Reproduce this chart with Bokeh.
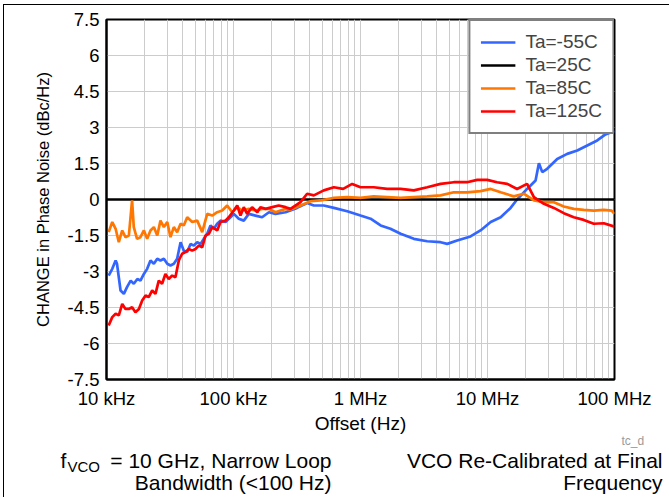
from bokeh.plotting import figure
from bokeh.layouts import column
from bokeh.models import (FixedTicker, CustomJSTickFormatter, Legend, LegendItem, Label,
                          Title, Range1d, InlineStyleSheet)
from bokeh.embed import file_html
from bokeh.resources import INLINE

# ---- data (offset frequency in Hz, change in phase noise in dBc/Hz) ----
freq_m55 = [1.04e4, 1.11e4, 1.18e4, 1.21e4, 1.29e4, 1.37e4, 1.45e4, 1.55e4, 1.64e4, 1.75e4,
            1.85e4, 1.97e4, 2.09e4, 2.22e4, 2.36e4, 2.51e4, 2.66e4, 2.83e4, 3.01e4, 3.19e4,
            3.39e4, 3.60e4, 3.83e4, 4.06e4, 4.32e4, 4.59e4, 4.87e4, 5.18e4, 5.50e4, 5.83e4,
            6.21e4, 6.59e4, 7.00e4, 7.44e4, 7.90e4, 8.65e4, 9.47e4, 1.006e5, 1.10e5, 1.205e5,
            1.32e5, 1.49e5, 1.68e5, 1.90e5, 2.14e5, 2.57e5, 3.17e5, 3.80e5, 4.29e5, 5.14e5,
            6.17e5, 7.86e5, 1.0e6, 1.2e6, 1.44e6, 1.72e6, 2.07e6, 2.63e6, 3.35e6, 4.27e6,
            4.82e6, 5.77e6, 7.35e6, 8.81e6, 1.06e7, 1.27e7, 1.52e7, 1.71e7, 2.05e7, 2.39e7,
            2.54e7, 2.70e7, 2.95e7, 3.54e7, 4.24e7, 5.09e7, 6.10e7, 7.31e7, 8.49e7, 1.0e8]
chg_m55 = [-3.17, -2.89, -2.54, -2.68, -3.79, -3.93, -3.65, -3.38, -3.51, -3.31,
           -3.38, -3.10, -2.89, -2.54, -2.68, -2.47, -2.54, -2.47, -2.68, -2.75,
           -2.68, -2.47, -1.78, -2.13, -2.19, -1.85, -1.92, -1.78, -1.85, -1.64,
           -1.43, -1.08, -1.22, -1.01, -0.88, -0.94, -0.74, -0.60, -0.80, -0.88,
           -0.60, -0.67, -0.74, -0.53, -0.60, -0.53, -0.35, -0.15, -0.25, -0.25,
           -0.35, -0.49, -0.67, -0.80, -1.08, -1.22, -1.43, -1.64, -1.74, -1.78,
           -1.85, -1.71, -1.54, -1.29, -0.94, -0.74, -0.35, 0.0, 0.44, 0.79,
           1.51, 1.14, 1.28, 1.69, 1.90, 2.04, 2.25, 2.46, 2.71, 2.85]

freq_25 = [1.0e4, 1.0e8]
chg_25 = [0.0, 0.0]

freq_85 = [1.04e4, 1.11e4, 1.18e4, 1.25e4, 1.33e4, 1.41e4, 1.50e4, 1.59e4, 1.64e4, 1.74e4,
           1.85e4, 1.97e4, 2.09e4, 2.22e4, 2.36e4, 2.51e4, 2.66e4, 2.83e4, 3.01e4, 3.19e4,
           3.39e4, 3.60e4, 3.83e4, 4.06e4, 4.32e4, 4.73e4, 5.18e4, 5.67e4, 6.21e4, 6.80e4,
           7.44e4, 8.15e4, 8.92e4, 9.77e4, 1.07e5, 1.17e5, 1.32e5, 1.49e5, 1.68e5, 1.90e5,
           2.14e5, 2.57e5, 2.81e5, 3.37e5, 4.04e5, 4.84e5, 6.17e5, 7.86e5, 1.0e6, 1.27e6,
           1.62e6, 2.07e6, 2.63e6, 3.35e6, 4.27e6, 5.43e6, 6.90e6, 8.81e6, 1.06e7, 1.27e7,
           1.61e7, 1.93e7, 2.32e7, 2.78e7, 3.33e7, 3.99e7, 4.78e7, 5.73e7, 6.87e7, 8.24e7,
           9.5e7, 1.0e8]
chg_85 = [-1.36, -0.94, -1.22, -1.78, -1.29, -1.57, -1.50, -0.04, -1.15, -1.64,
          -1.57, -1.29, -1.64, -1.29, -1.15, -1.50, -0.88, -1.15, -0.94, -1.57,
          -1.15, -1.36, -1.01, -1.08, -0.74, -0.94, -0.88, -1.36, -0.60, -0.67,
          -0.53, -0.46, -0.25, -0.53, -0.32, -0.46, -0.39, -0.46, -0.39, -0.39,
          -0.53, -0.39, -0.42, -0.25, -0.07, -0.04, 0.07, 0.10, 0.07, 0.13,
          0.10, 0.07, 0.10, 0.13, 0.17, 0.30, 0.30, 0.35, 0.44, 0.30,
          0.13, 0.24, -0.04, -0.11, -0.11, -0.29, -0.39, -0.43, -0.46, -0.43,
          -0.46, -0.60]

freq_125 = [1.04e4, 1.11e4, 1.18e4, 1.25e4, 1.33e4, 1.41e4, 1.50e4, 1.59e4, 1.69e4, 1.80e4,
            1.91e4, 2.03e4, 2.15e4, 2.29e4, 2.43e4, 2.58e4, 2.74e4, 2.91e4, 3.09e4, 3.29e4,
            3.49e4, 3.71e4, 3.94e4, 4.19e4, 4.45e4, 4.73e4, 5.02e4, 5.33e4, 5.67e4, 6.02e4,
            6.39e4, 6.80e4, 7.44e4, 7.90e4, 8.65e4, 9.18e4, 1.006e5, 1.07e5, 1.135e5, 1.205e5,
            1.28e5, 1.40e5, 1.54e5, 1.63e5, 1.79e5, 2.02e5, 2.27e5, 2.57e5, 2.81e5, 3.37e5,
            3.80e5, 4.29e5, 5.14e5, 6.17e5, 7.30e5, 8.60e5, 1.0e6, 1.27e6, 1.62e6, 2.07e6,
            2.63e6, 3.35e6, 4.27e6, 5.43e6, 6.90e6, 8.30e6, 9.95e6, 1.19e7, 1.43e7, 1.71e7,
            2.05e7, 2.32e7, 2.78e7, 3.33e7, 3.99e7, 4.78e7, 5.73e7, 6.87e7, 8.24e7, 1.0e8]
chg_125 = [-5.25, -4.90, -4.76, -4.83, -4.35, -4.56, -4.56, -4.49, -4.70, -4.56,
           -4.21, -4.00, -4.07, -3.79, -3.93, -3.38, -3.51, -3.10, -3.31, -3.17,
           -3.24, -2.54, -2.26, -2.19, -2.06, -2.13, -2.06, -1.92, -1.99, -1.50,
           -1.43, -1.15, -1.29, -0.94, -0.88, -0.74, -0.46, -0.25, -0.67, -0.32,
           -0.60, -0.32, -0.53, -0.32, -0.39, -0.32, -0.25, -0.32, -0.39, -0.11,
           0.24, 0.17, 0.38, 0.51, 0.44, 0.65, 0.51, 0.51, 0.44, 0.44,
           0.38, 0.51, 0.65, 0.72, 0.72, 0.82, 0.82, 0.72, 0.65, 0.44,
           0.65, 0.10, -0.18, -0.35, -0.57, -0.74, -0.85, -1.01, -0.99, -1.13]

series_labels = ["Ta=-55C", "Ta=25C", "Ta=85C", "Ta=125C"]
series_colors = ["#3366FF", "#000000", "#FF7700", "#FF0000"]

x_tick_values = [1e4, 1e5, 1e6, 1e7, 1e8]
x_tick_labels = ["10 kHz", "100 kHz", "1 MHz", "10 MHz", "100 MHz"]
x_minor_ticks = [m * d for d in (1e4, 1e5, 1e6, 1e7) for m in (2, 3, 4, 5, 6, 7, 8, 9)]
y_tick_values = [-7.5, -6, -4.5, -3, -1.5, 0, 1.5, 3, 4.5, 6, 7.5]

FONT = "Liberation Sans"
GRID = "#cccccc"
W = 669
H_MAIN = 450
H_FOOT = 47

p = figure(width=W, height=H_MAIN, x_axis_type="log", x_range=(1e4, 1e8), y_range=(-7.5, 7.5),
           output_backend="svg", toolbar_location=None,
           min_border_left=106, min_border_right=55, min_border_top=19,
           min_border_bottom=H_MAIN - 379)

p.background_fill_color = "white"
p.border_fill_color = "white"
p.outline_line_color = "black"
p.outline_line_width = 2

xt = FixedTicker(ticks=x_tick_values, minor_ticks=x_minor_ticks)
yt = FixedTicker(ticks=y_tick_values)
p.xaxis.ticker = xt
p.yaxis.ticker = yt
p.xgrid.ticker = xt
p.ygrid.ticker = yt

p.xaxis.formatter = CustomJSTickFormatter(args=dict(vals=x_tick_values, labels=x_tick_labels), code="""
for (let i = 0; i < vals.length; i++) { if (Math.abs(Math.log10(tick) - Math.log10(vals[i])) < 1e-6) return labels[i]; }
return '';
""")
p.yaxis.formatter = CustomJSTickFormatter(code="return tick.toString();")

for ax in (p.xaxis, p.yaxis):
    ax.axis_line_color = "black"
    ax.axis_line_width = 2
    ax.major_tick_line_color = None
    ax.minor_tick_line_color = None
    ax.major_tick_out = 0
    ax.major_tick_in = 0
    ax.minor_tick_out = 0
    ax.minor_tick_in = 0
    ax.major_label_text_font = FONT
    ax.major_label_text_font_size = "18.5px"
    ax.major_label_text_color = "black"
    ax.axis_label_text_font = FONT
    ax.axis_label_text_font_style = "normal"
    ax.axis_label_text_color = "black"

p.xaxis.axis_label = "Offset (Hz)"
p.yaxis.axis_label = "CHANGE in Phase Noise (dBc/Hz)"
p.xaxis.axis_label_text_font_size = "19px"
p.yaxis.axis_label_text_font_size = "16.5px"
p.xaxis.major_label_standoff = 8
p.xaxis.axis_label_standoff = 1
p.yaxis.major_label_standoff = 7
p.yaxis.axis_label_standoff = 13

p.xgrid.grid_line_color = GRID
p.xgrid.minor_grid_line_color = GRID
p.ygrid.grid_line_color = GRID
p.xgrid.grid_line_width = 1
p.ygrid.grid_line_width = 1

renderers = []
for fx, fy, c in ((freq_m55, chg_m55, series_colors[0]),
                  (freq_25, chg_25, series_colors[1]),
                  (freq_85, chg_85, series_colors[2]),
                  (freq_125, chg_125, series_colors[3])):
    renderers.append(p.line(fx, fy, line_color=c, line_width=2.7))

legend = Legend(items=[LegendItem(label=l, renderers=[r]) for l, r in zip(series_labels, renderers)],
                location="top_right", margin=0, padding=10, spacing=1,
                label_height=20, glyph_height=20, glyph_width=35, label_standoff=10, label_width=75,
                label_text_font=FONT, label_text_font_size="19px",
                border_line_color="black", border_line_width=2,
                background_fill_color="white", background_fill_alpha=1.0)
p.add_layout(legend)

# small figure id below the axis label
p.add_layout(Title(text="tc_d", align="left", offset=515, standoff=-10,
                   text_font=FONT, text_font_size="12px", text_font_style="normal",
                   text_color="#9a9a9a"), "below")

# ---- footer notes (a frameless strip whose data units are pixels) ----
foot = figure(width=W, height=H_FOOT, x_range=Range1d(0, W), y_range=Range1d(0, H_FOOT),
              output_backend="svg", toolbar_location=None, title=None,
              x_axis_location=None, y_axis_location=None,
              min_border_left=0, min_border_right=0, min_border_top=0, min_border_bottom=0)
foot.grid.visible = False
foot.outline_line_color = None
foot.background_fill_color = "white"
foot.border_fill_color = "white"

for fig in (p, foot):
    if "frame_align" in fig.properties():
        fig.frame_align = False


def note(txt, x, y, size, align="left"):
    foot.add_layout(Label(x=x, y=y, text=txt, text_font=FONT, text_font_size=size,
                          text_color="black", text_align=align, text_baseline="alphabetic"))


note("f", 60, 37, "21px")
note("VCO", 67, 31, "15px")
note("= 10 GHz, Narrow Loop", 331, 37, "21px", align="right")
note("Bandwidth (<100 Hz)", 331, 15.5, "21px", align="right")
note("VCO Re-Calibrated at Final", 662, 37, "21px", align="right")
note("Frequency", 662, 15.5, "21px", align="right")

# thin page frame (top and left edges) drawn over the whole figure block
frame_css = InlineStyleSheet(css="""
:host { position: relative; }
:host::after {
  content: ""; position: absolute; left: 3px; top: 4px; right: 0px; bottom: 0px;
  border-top: 1px solid #000; border-left: 1px solid #000;
  pointer-events: none; z-index: 100;
}
""")

layout = column(p, foot, spacing=0, stylesheets=[frame_css])
open("out.html", "w").write(file_html(layout, INLINE))
